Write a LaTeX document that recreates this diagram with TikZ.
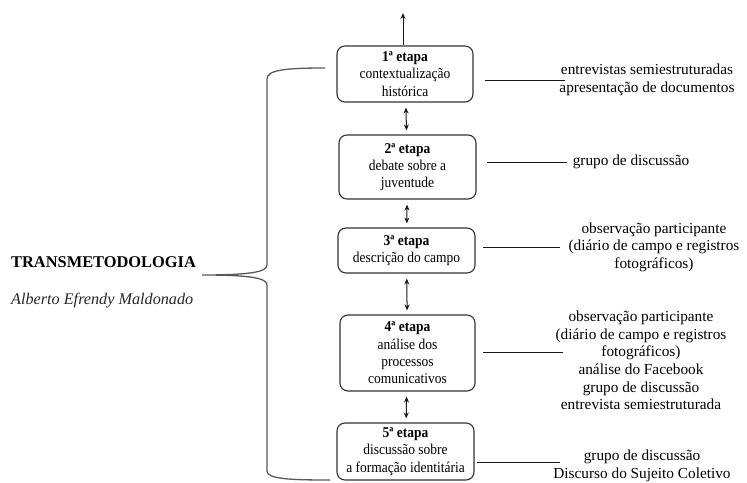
\documentclass[tikz,border=0pt]{standalone}
\usepackage{fontspec}
\setmainfont{Liberation Serif}
\newfontfamily\boxfont[FakeStretch=0.9]{Liberation Serif}
\usetikzlibrary{arrows.meta}
\begin{document}
\begin{tikzpicture}[x=1pt,y=-1pt,
  stagebox/.style={draw=black!80,line width=1.1pt,rounded corners=8pt,inner sep=0pt,align=center,
    font=\boxfont\fontsize{15}{17.3}\selectfont,text=black},
  righttext/.style={align=center,inner sep=0pt,font=\fontsize{15.3}{17.6}\selectfont,text=black},
  link/.style={draw=black!90,line width=1pt},
  dbl/.style={draw=black!90,line width=1pt,{Stealth[length=6pt,width=5pt]}-{Stealth[length=6pt,width=5pt]},shorten <=5pt,shorten >=4pt},
  brace/.style={draw=black!65,line width=1.3pt}]
\useasboundingbox (0,0) rectangle (747,482);

% stages
\node[stagebox,minimum width=136pt,minimum height=56pt] (b1) at (405,74)
  {\textbf{1ª etapa}\\contextualização\\histórica};
\node[stagebox,minimum width=137pt,minimum height=64pt] (b2) at (407.5,167)
  {\textbf{2ª etapa}\\debate sobre a\\juventude};
\node[stagebox,minimum width=137pt,minimum height=45pt] (b3) at (406.5,250.5)
  {\textbf{3ª etapa}\\descrição do campo};
\node[stagebox,minimum width=135pt,minimum height=76pt] (b4) at (407.5,353)
  {\textbf{4ª etapa}\\análise dos\\processos\\comunicativos};
\node[stagebox,minimum width=137pt,minimum height=57pt] (b5) at (405.5,451.5)
  {\textbf{5ª etapa}\\discussão sobre\\a formação identitária};

% arrows between stages
\coordinate (top) at (403,13);
\draw[link,-{Stealth[length=6pt,width=5pt]}] (b1.north -| top) -- (top);
\draw[dbl] (b1) -- (b2);
\draw[dbl] (b2) -- (b3);
\draw[dbl] (b3) -- (b4);
\draw[dbl] (b4) -- (b5);

% right texts
\node[righttext] (r1) at (647,80) {entrevistas semiestruturadas\\apresentação de documentos};
\node[righttext] (r2) at (631,161.5) {grupo de discussão};
\node[righttext] (r3) at (654,247) {observação participante\\(diário de campo e registros\\fotográficos)};
\node[righttext] (r4) at (641,360.5) {observação participante\\(diário de campo e registros\\fotográficos)\\análise do Facebook\\grupo de discussão\\entrevista semiestruturada};
\node[righttext] (r5) at (642,466) {grupo de discussão\\Discurso do Sujeito Coletivo};

% connector lines
\coordinate (l1a) at (485,80);  \coordinate (l1b) at (565,80);
\coordinate (l2a) at (487,162.5); \coordinate (l2b) at (567,162.5);
\coordinate (l3a) at (483,247); \coordinate (l3b) at (560,247);
\coordinate (l4a) at (483,352); \coordinate (l4b) at (563,352);
\coordinate (l5a) at (477,462); \coordinate (l5b) at (560,462);
\draw[link] (l1a) -- (l1b);
\draw[link] (l2a) -- (l2b);
\draw[link] (l3a) -- (l3b);
\draw[link] (l4a) -- (l4b);
\draw[link] (l5a) -- (l5b);

% title
\node[anchor=west,inner sep=0pt,font=\bfseries\fontsize{16.4}{20}\selectfont,text=black] (title) at (11,262) {TRANSMETODOLOGIA};
\node[anchor=west,inner sep=0pt,font=\itshape\fontsize{16.2}{20}\selectfont,text=black!85] (author) at (11,301) {Alberto Efrendy Maldonado};

% brace
\coordinate (btop) at (325,68);
\coordinate (btip) at (202,275);
\coordinate (bbot) at (330,480);
\draw[brace] (btop) .. controls (285,68) and (267,70) .. (267,79)
  -- (267,265) .. controls (267,272) and (250,275) .. (btip)
  .. controls (250,275) and (267,278) .. (267,285)
  -- (267,471) .. controls (267,479) and (290,480) .. (bbot);
\end{tikzpicture}
\end{document}
